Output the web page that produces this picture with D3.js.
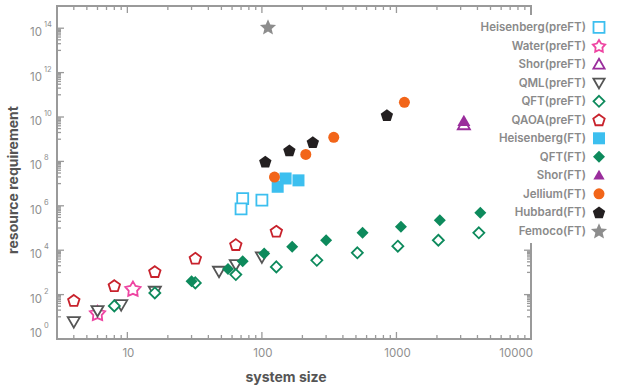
<!DOCTYPE html>
<html>
<head>
<meta charset="utf-8">
<script src="https://cdn.jsdelivr.net/npm/d3@7"></script>
<style>
body { margin: 0; background: #fff; }
text { font-family: Inter, "Noto Sans", sans-serif; }
</style>
</head>
<body>
<svg id="chart" width="641" height="391"></svg>
<script>
// values (system size, resource requirement)
var heisPreX = [72, 100, 70]
var heisPreY = [2.1e6, 1.8e6, 7.3e5]
var waterPreX = [6, 11]
var waterPreY = [15, 186]
var shorPreX = [3170]
var shorPreY = [4.5e9]
var qmlPreX = [4, 6, 9, 16, 48, 64, 100]
var qmlPreY = [6.0, 19, 35, 141, 1120, 2250, 5000]
var qftPreX = [8, 16, 32, 64, 128, 256, 512, 1024, 2048, 4096]
var qftPreY = [31, 119, 337, 798, 1770, 3520, 7600, 15100, 28100, 60700]
var qaoaPreX = [4, 8, 16, 32, 64, 128]
var qaoaPreY = [55, 254, 1090, 4340, 18000, 71800]
var heisFtX = [150, 187, 131]
var heisFtY = [1.7e7, 1.4e7, 7.2e6]
var qftFtX = [30, 56, 72, 104, 168, 300, 560, 1080, 2100, 4200]
var qftFtY = [397, 1440, 3180, 7060, 14200, 28100, 60700, 113000, 225000, 485000]
var shorFtX = [3170]
var shorFtY = [6.6e9]
var jelliumFtX = [124, 212, 342, 1146]
var jelliumFtY = [1.96e7, 2.07e8, 1.21e9, 4.6e10]
var hubbardFtX = [106, 160, 239, 849]
var hubbardFtY = [9.7e7, 3.14e8, 7.4e8, 1.23e10]
var femocoFtX = [111]
var femocoFtY = [1.15e14]

var seriesNames = ["Heisenberg(preFT)", "Water(preFT)", "Shor(preFT)", "QML(preFT)", "QFT(preFT)", "QAOA(preFT)",
    "Heisenberg(FT)", "QFT(FT)", "Shor(FT)", "Jellium(FT)", "Hubbard(FT)", "Femoco(FT)"]
var seriesX = [heisPreX, waterPreX, shorPreX, qmlPreX, qftPreX, qaoaPreX, heisFtX, qftFtX, shorFtX, jelliumFtX, hubbardFtX, femocoFtX]
var seriesY = [heisPreY, waterPreY, shorPreY, qmlPreY, qftPreY, qaoaPreY, heisFtY, qftFtY, shorFtY, jelliumFtY, hubbardFtY, femocoFtY]

var xTickLabels = [10, 100, 1000, 10000]
var yTickExps = [0, 2, 4, 6, 8, 10, 12, 14]

// marker styles, one per series
var shapes = ["square", "star", "triUp", "triDown", "diamond", "pentagon", "square", "diamond", "triUp", "circle", "pentagon", "star5"]
var colors = ["#3cbfef", "#ee45a2", "#9a2d9c", "#555555", "#0d8a5c", "#c8222c", "#3cbfef", "#0d8a5c", "#9a2d9c", "#f26519", "#231f20", "#8d8d8d"]
var filled = [false, false, false, false, false, false, true, true, true, true, true, true]
var radius = [5.5, 8, 7, 7, 5.5, 6, 6, 6, 7.5, 5.5, 6.5, 8.5]

var svg = d3.select("#chart")
var plotLeft = 57, plotRight = 531, plotTop = 6, plotBottom = 339
var axisColor = "#9a9a9a"

var x = d3.scaleLog().domain([3, 10000]).range([plotLeft, plotRight])
var y = d3.scaleLog().domain([1, 1e15]).range([plotBottom, plotTop])

function shapePath(type, r) {
    var pts = []
    var i, a
    if (type == "circle") {
        return d3.symbol().type(d3.symbolCircle).size(Math.PI * r * r)()
    }
    if (type == "square") {
        pts = [[-r, -r], [r, -r], [r, r], [-r, r]]
    } else if (type == "diamond") {
        pts = [[0, -r], [r, 0], [0, r], [-r, 0]]
    } else if (type == "triUp" || type == "triDown") {
        var s = type == "triUp" ? 1 : -1
        for (i = 0; i < 3; i++) {
            a = -Math.PI / 2 + i * 2 * Math.PI / 3
            pts.push([r * Math.cos(a), s * r * Math.sin(a) + s * r * 0.15])
        }
    } else if (type == "pentagon") {
        for (i = 0; i < 5; i++) {
            a = -Math.PI / 2 + i * 2 * Math.PI / 5
            pts.push([r * Math.cos(a), r * Math.sin(a) + r * 0.1])
        }
    } else if (type == "star" || type == "star5") {
        var inner = type == "star" ? 0.55 : 0.45
        for (i = 0; i < 10; i++) {
            a = -Math.PI / 2 + i * Math.PI / 5
            var rr = i % 2 ? r * inner : r
            pts.push([rr * Math.cos(a), rr * Math.sin(a) + r * 0.1])
        }
    }
    return "M" + pts.map(function(p) { return p[0].toFixed(2) + "," + p[1].toFixed(2) }).join("L") + "Z"
}

// ---- frame and ticks ----
var xTicks = x.ticks()
var yTicks = []
for (var e = 0; e < 15; e++) {
    yTicks.push({ v: Math.pow(10, e), major: e % 2 == 0 })
    if (e % 2 == 1) {
        for (var k = 2; k < 10; k++) yTicks.push({ v: k * Math.pow(10, e), major: false })
    }
}

var frame = svg.append("g")
frame.append("rect")
    .attr("x", plotLeft).attr("y", plotTop)
    .attr("width", plotRight - plotLeft).attr("height", plotBottom - plotTop)
    .attr("fill", "none").attr("stroke", axisColor).attr("stroke-width", 2)

xTicks.forEach(function(t) {
    var major = xTickLabels.indexOf(t) >= 0
    var len = major ? 7 : 4
    frame.append("line").attr("x1", x(t)).attr("x2", x(t)).attr("y1", plotBottom).attr("y2", plotBottom - len)
        .attr("stroke", axisColor).attr("stroke-width", 1.3)
    frame.append("line").attr("x1", x(t)).attr("x2", x(t)).attr("y1", plotTop).attr("y2", plotTop + len)
        .attr("stroke", axisColor).attr("stroke-width", 1.3)
})
yTicks.forEach(function(t) {
    var len = t.major ? 7 : 4
    frame.append("line").attr("y1", y(t.v)).attr("y2", y(t.v)).attr("x1", plotLeft).attr("x2", plotLeft + len)
        .attr("stroke", axisColor).attr("stroke-width", 1.3)
    frame.append("line").attr("y1", y(t.v)).attr("y2", y(t.v)).attr("x1", plotRight).attr("x2", plotRight - len)
        .attr("stroke", axisColor).attr("stroke-width", 1.3)
})

xTickLabels.forEach(function(t, i) {
    var last = i == xTickLabels.length - 1
    svg.append("text")
        .attr("x", last ? plotRight + 2 : x(t) + 1)
        .attr("y", 357)
        .attr("text-anchor", last ? "end" : "middle")
        .attr("font-size", 11.5)
        .attr("fill", "#8f8f8f")
        .text(t)
})

yTickExps.forEach(function(p) {
    var yy = y(Math.pow(10, p)) + (p == 0 ? -2 : 8)
    svg.append("text")
        .attr("x", 42).attr("y", yy)
        .attr("text-anchor", "end")
        .attr("font-size", 11.5)
        .attr("fill", "#8f8f8f")
        .text("10")
    svg.append("text")
        .attr("x", 44).attr("y", yy - 9)
        .attr("font-size", 7.5)
        .attr("fill", "#8f8f8f")
        .text(p)
})

svg.append("text")
    .attr("x", 286).attr("y", 382)
    .attr("text-anchor", "middle")
    .attr("font-size", 14).attr("font-weight", 700)
    .attr("fill", "#555")
    .text("system size")

svg.append("text")
    .attr("transform", "translate(18,180) rotate(-90)")
    .attr("text-anchor", "middle")
    .attr("font-size", 14).attr("font-weight", 700)
    .attr("fill", "#555")
    .text("resource requirement")

// legend background hides the right frame behind it, points stay on top
svg.append("rect")
    .attr("x", 476).attr("y", 15)
    .attr("width", 150).attr("height", 228)
    .attr("fill", "#fff")

// ---- points ----
seriesNames.forEach(function(name, i) {
    var pts = seriesX[i].map(function(v, j) { return [v, seriesY[i][j]] })
    svg.append("g").selectAll("path")
        .data(pts)
        .enter().append("path")
        .attr("transform", function(d) { return "translate(" + x(d[0]) + "," + y(d[1]) + ")" })
        .attr("d", shapePath(shapes[i], radius[i]))
        .attr("fill", filled[i] ? colors[i] : "#fff")
        .attr("stroke", colors[i])
        .attr("stroke-width", filled[i] ? 0 : 1.8)
        .attr("stroke-linejoin", "miter")
})

// ---- legend ----
var legend = svg.append("g")
    .selectAll("g")
    .data(seriesNames)
    .enter().append("g")
    .attr("transform", function(d, i) { return "translate(0," + (27.3 + i * 18.5) + ")" })

legend.append("text")
    .attr("x", 586).attr("dy", "0.35em")
    .attr("text-anchor", "end")
    .attr("font-size", 11.5).attr("font-weight", 600)
    .attr("fill", "#8a8a8a")
    .text(function(d) { return d })

legend.append("path")
    .attr("transform", "translate(599,0)")
    .attr("d", function(d, i) { return shapePath(shapes[i], Math.min(radius[i], i == 11 ? 8.5 : 6.5)) })
    .attr("fill", function(d, i) { return filled[i] ? colors[i] : "#fff" })
    .attr("stroke", function(d, i) { return colors[i] })
    .attr("stroke-width", function(d, i) { return filled[i] ? 0 : 1.8 })
</script>
</body>
</html>
